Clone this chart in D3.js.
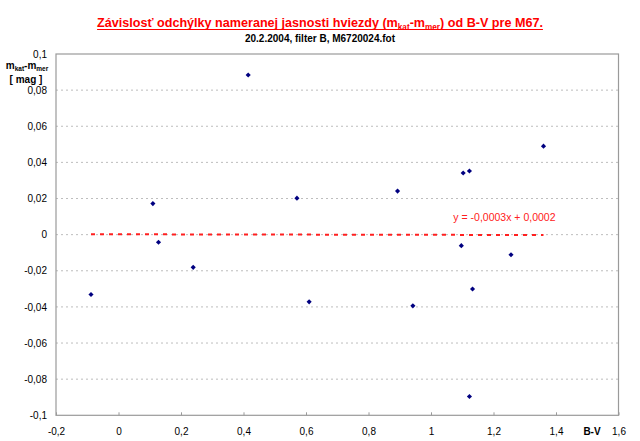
<!DOCTYPE html>
<html>
<head>
<meta charset="utf-8">
<script src="https://cdn.jsdelivr.net/npm/d3@7"></script>
<style>
  body { margin: 0; background: #fff; }
  svg { display: block; font-family: Arial, "Liberation Sans", sans-serif; }
</style>
</head>
<body>
<div id="chart-container"></div>
<script>
// B-V colour index of each star
const bv = [-0.088, 0.110, 0.128, 0.239, 0.415, 0.571, 0.610, 0.893, 0.942,
            1.097, 1.103, 1.123, 1.133, 1.123, 1.256, 1.360];
// catalogue minus measured magnitude
const dmag = [-0.0331, 0.0172, -0.0042, -0.0181, 0.0884, 0.0202, -0.0372, 0.0241, -0.0394,
              -0.0061, 0.0341, 0.0352, -0.0301, -0.0896, -0.0111, 0.0490];

const xTicks = [-0.2, 0, 0.2, 0.4, 0.6, 0.8, 1, 1.2, 1.4, 1.6];
const yTicks = [-0.1, -0.08, -0.06, -0.04, -0.02, 0, 0.02, 0.04, 0.06, 0.08, 0.1];

// linear trend shown in the chart
const trendSlope = -0.0003;
const trendIntercept = 0.0002;

const width = 640;
const height = 441;
const plot = { left: 56, right: 618.5, top: 54, bottom: 415.3 };

const fmt = v => String(+v.toFixed(2)).replace('.', ',');

const svg = d3.select('#chart-container').append('svg')
    .attr('width', width)
    .attr('height', height);

const x = d3.scaleLinear().domain([-0.2, 1.6]).range([plot.left, plot.right]);
const y = d3.scaleLinear().domain([-0.1, 0.1]).range([plot.bottom, plot.top]);

// gridlines
svg.append('g')
    .selectAll('line')
    .data(yTicks.filter(v => v > -0.1 && v < 0.1))
    .enter()
    .append('line')
    .attr('x1', plot.left).attr('x2', plot.right)
    .attr('y1', d => y(d)).attr('y2', d => y(d))
    .attr('stroke', '#bdbdbd')
    .attr('stroke-width', 1)
    .attr('stroke-dasharray', '2,3');

// plot border
svg.append('rect')
    .attr('x', plot.left).attr('y', plot.top)
    .attr('width', plot.right - plot.left)
    .attr('height', plot.bottom - plot.top)
    .attr('fill', 'none')
    .attr('stroke', '#9a9a9a')
    .attr('stroke-width', 1.2);

// x axis (ticks point inward)
const xAxis = d3.axisBottom(x).tickValues(xTicks).tickFormat(fmt).tickSizeInner(-3).tickSizeOuter(0).tickPadding(13);
const gx = svg.append('g').attr('transform', `translate(0,${plot.bottom})`).call(xAxis);
gx.select('.domain').remove();
gx.selectAll('.tick line').attr('stroke', '#9a9a9a');
gx.selectAll('.tick text').attr('font-size', 10).attr('fill', '#000');

// y axis
const yAxis = d3.axisLeft(y).tickValues(yTicks).tickFormat(fmt).tickSize(0).tickPadding(9);
const gy = svg.append('g').attr('transform', `translate(${plot.left},0)`).call(yAxis);
gy.select('.domain').remove();
gy.selectAll('.tick text').attr('font-size', 10).attr('fill', '#000');

// trend line
const xMin = d3.min(bv), xMax = d3.max(bv);
svg.append('line')
    .attr('x1', x(xMin)).attr('x2', x(xMax))
    .attr('y1', y(trendSlope * xMin + trendIntercept))
    .attr('y2', y(trendSlope * xMax + trendIntercept))
    .attr('stroke', '#ff2020')
    .attr('stroke-width', 2)
    .attr('stroke-dasharray', '4,5');

svg.append('text')
    .attr('x', x(1.235)).attr('y', 220.5)
    .attr('text-anchor', 'middle')
    .attr('font-size', 10.5)
    .attr('fill', '#ff2020')
    .text('y = -0,0003x + 0,0002');

// data points (small squares turned into diamonds)
svg.append('g')
    .selectAll('path')
    .data(bv.map((v, i) => [v, dmag[i]]))
    .enter()
    .append('path')
    .attr('d', d3.symbol().type(d3.symbolSquare).size(13))
    .attr('transform', d => `translate(${x(d[0])},${y(d[1])}) rotate(45)`)
    .attr('fill', '#000080');

// title
const title = svg.append('text')
    .attr('x', 320).attr('y', 27)
    .attr('text-anchor', 'middle')
    .attr('font-size', 12.6)
    .attr('font-weight', 'bold')
    .attr('fill', '#ff0000');
title.append('tspan').text('Závislosť odchýlky nameranej jasnosti hviezdy (m');
title.append('tspan').attr('font-size', 8.2).attr('dy', 3).text('kat');
title.append('tspan').attr('dy', -3).text('-m');
title.append('tspan').attr('font-size', 8.2).attr('dy', 3).text('mer');
title.append('tspan').attr('dy', -3).text(') od B-V pre M67.');
const tb = title.node().getBBox();
svg.append('line')
    .attr('x1', tb.x).attr('x2', tb.x + tb.width)
    .attr('y1', 29.5).attr('y2', 29.5)
    .attr('stroke', '#ff0000')
    .attr('stroke-width', 1.2);

svg.append('text')
    .attr('x', 320).attr('y', 42)
    .attr('text-anchor', 'middle')
    .attr('font-size', 10)
    .attr('font-weight', 'bold')
    .text('20.2.2004, filter B, M6720024.fot');

// axis titles
const yl = svg.append('text')
    .attr('x', 27).attr('y', 69)
    .attr('text-anchor', 'middle')
    .attr('font-size', 10)
    .attr('font-weight', 'bold');
yl.append('tspan').text('m');
yl.append('tspan').attr('font-size', 6.5).attr('dy', 2).text('kat');
yl.append('tspan').attr('dy', -2).text('-m');
yl.append('tspan').attr('font-size', 6.5).attr('dy', 2).text('mer');

svg.append('text')
    .attr('x', 26).attr('y', 83)
    .attr('text-anchor', 'middle')
    .attr('font-size', 10)
    .attr('font-weight', 'bold')
    .text('[ mag ]');

svg.append('text')
    .attr('x', 592).attr('y', 434.5)
    .attr('text-anchor', 'middle')
    .attr('font-size', 10)
    .attr('font-weight', 'bold')
    .text('B-V');
</script>
</body>
</html>
